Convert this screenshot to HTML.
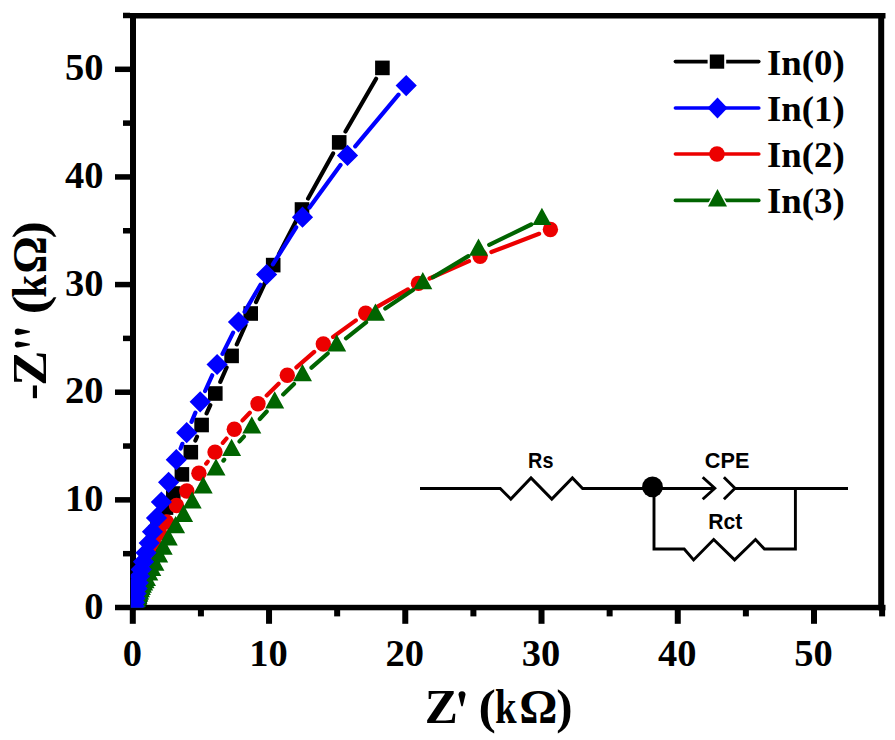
<!DOCTYPE html>
<html><head><meta charset="utf-8"><style>
html,body{margin:0;padding:0;background:#fff;width:895px;height:740px;overflow:hidden}
svg{display:block}
.tl text{font-family:"Liberation Serif",serif;font-weight:bold;font-size:38.5px;fill:#000}
.lg{font-family:"Liberation Serif",serif;font-weight:bold;font-size:36.8px;fill:#000}
.at{font-family:"Liberation Serif",serif;font-weight:bold;font-size:48px;fill:#000}
.ct{font-family:"Liberation Sans",sans-serif;font-weight:bold;font-size:22px;fill:#000}
</style></head><body>
<svg width="895" height="740" viewBox="0 0 895 740">
<defs><clipPath id="pc"><rect x="130.8" y="0" width="760" height="607.8"/></clipPath></defs>
<rect width="895" height="740" fill="#fff"/>
<rect x="130" y="13" width="755.5" height="5.5" fill="#000"/><rect x="130" y="604.8" width="755.5" height="5.5" fill="#000"/><rect x="130" y="13" width="6" height="597.3" fill="#000"/><rect x="878.2" y="13" width="6" height="597.3" fill="#000"/><rect x="115" y="604.75" width="15" height="5.5" fill="#000"/><rect x="123" y="550.93" width="7" height="5.5" fill="#000"/><rect x="115" y="497.11" width="15" height="5.5" fill="#000"/><rect x="123" y="443.29" width="7" height="5.5" fill="#000"/><rect x="115" y="389.47" width="15" height="5.5" fill="#000"/><rect x="123" y="335.65" width="7" height="5.5" fill="#000"/><rect x="115" y="281.83" width="15" height="5.5" fill="#000"/><rect x="123" y="228.01" width="7" height="5.5" fill="#000"/><rect x="115" y="174.19" width="15" height="5.5" fill="#000"/><rect x="123" y="120.37" width="7" height="5.5" fill="#000"/><rect x="115" y="66.55" width="15" height="5.5" fill="#000"/><rect x="123" y="12.73" width="7" height="5.5" fill="#000"/><rect x="129.80" y="610" width="6" height="13.8" fill="#000"/><rect x="197.92" y="610" width="6" height="6.4" fill="#000"/><rect x="266.04" y="610" width="6" height="13.8" fill="#000"/><rect x="334.16" y="610" width="6" height="6.4" fill="#000"/><rect x="402.28" y="610" width="6" height="13.8" fill="#000"/><rect x="470.40" y="610" width="6" height="6.4" fill="#000"/><rect x="538.52" y="610" width="6" height="13.8" fill="#000"/><rect x="606.64" y="610" width="6" height="6.4" fill="#000"/><rect x="674.76" y="610" width="6" height="13.8" fill="#000"/><rect x="742.88" y="610" width="6" height="6.4" fill="#000"/><rect x="811.00" y="610" width="6" height="13.8" fill="#000"/><rect x="879.12" y="610" width="6" height="6.4" fill="#000"/>
<g clip-path="url(#pc)"><path d="M376.1 78.8L345.5 131.5M333.1 153.4L308.1 198.5M296.2 220.7L279.0 253.9M267.9 276.5L256.0 302.1M245.5 325.0L236.8 344.4M226.6 367.5L220.3 381.9M210.3 405.1L206.6 413.4M197.0 436.7L195.4 440.5" stroke="#000000" stroke-width="4.2" stroke-linecap="round" fill="none"/><rect x="375.1" y="60.6" width="14.6" height="14.6" fill="#000000"/><rect x="331.9" y="135.1" width="14.6" height="14.6" fill="#000000"/><rect x="294.7" y="202.2" width="14.6" height="14.6" fill="#000000"/><rect x="265.9" y="257.8" width="14.6" height="14.6" fill="#000000"/><rect x="243.4" y="306.2" width="14.6" height="14.6" fill="#000000"/><rect x="224.3" y="348.6" width="14.6" height="14.6" fill="#000000"/><rect x="208.0" y="386.2" width="14.6" height="14.6" fill="#000000"/><rect x="194.3" y="417.7" width="14.6" height="14.6" fill="#000000"/><rect x="183.5" y="444.9" width="14.6" height="14.6" fill="#000000"/><rect x="174.6" y="467.1" width="14.6" height="14.6" fill="#000000"/><rect x="166.0" y="486.2" width="14.6" height="14.6" fill="#000000"/><rect x="158.7" y="500.3" width="14.6" height="14.6" fill="#000000"/><rect x="150.2" y="514.2" width="14.6" height="14.6" fill="#000000"/><rect x="148.2" y="525.5" width="14.6" height="14.6" fill="#000000"/><rect x="145.8" y="535.4" width="14.6" height="14.6" fill="#000000"/><rect x="143.4" y="543.9" width="14.6" height="14.6" fill="#000000"/><rect x="141.3" y="551.5" width="14.6" height="14.6" fill="#000000"/><rect x="139.6" y="558.2" width="14.6" height="14.6" fill="#000000"/><rect x="138.1" y="564.0" width="14.6" height="14.6" fill="#000000"/><rect x="136.9" y="569.2" width="14.6" height="14.6" fill="#000000"/><rect x="135.8" y="573.8" width="14.6" height="14.6" fill="#000000"/><rect x="134.9" y="577.9" width="14.6" height="14.6" fill="#000000"/><rect x="134.1" y="581.4" width="14.6" height="14.6" fill="#000000"/><rect x="133.4" y="584.5" width="14.6" height="14.6" fill="#000000"/><rect x="132.8" y="587.3" width="14.6" height="14.6" fill="#000000"/><rect x="132.2" y="589.7" width="14.6" height="14.6" fill="#000000"/><rect x="131.8" y="591.8" width="14.6" height="14.6" fill="#000000"/><rect x="131.3" y="593.7" width="14.6" height="14.6" fill="#000000"/><rect x="131.0" y="595.3" width="14.6" height="14.6" fill="#000000"/><rect x="130.6" y="596.8" width="14.6" height="14.6" fill="#000000"/><rect x="130.3" y="598.1" width="14.6" height="14.6" fill="#000000"/><path d="M539.1 233.8L491.4 252.0M469.0 261.2L429.5 278.5M407.9 289.4L376.2 307.3M355.9 320.4L333.1 336.9M314.2 351.9L296.4 367.4M278.6 383.7L266.7 395.4M249.8 412.7L242.5 420.4M226.5 438.5L222.8 442.9M207.7 461.7L206.2 463.6" stroke="#ec0000" stroke-width="4.2" stroke-linecap="round" fill="none"/><circle cx="550.4" cy="229.5" r="7.7" fill="#ec0000"/><circle cx="480.1" cy="256.3" r="7.7" fill="#ec0000"/><circle cx="418.4" cy="283.4" r="7.7" fill="#ec0000"/><circle cx="365.7" cy="313.3" r="7.7" fill="#ec0000"/><circle cx="323.3" cy="344.0" r="7.7" fill="#ec0000"/><circle cx="287.3" cy="375.3" r="7.7" fill="#ec0000"/><circle cx="258.0" cy="403.8" r="7.7" fill="#ec0000"/><circle cx="234.3" cy="429.3" r="7.7" fill="#ec0000"/><circle cx="215.0" cy="452.1" r="7.7" fill="#ec0000"/><circle cx="198.9" cy="473.2" r="7.7" fill="#ec0000"/><circle cx="186.8" cy="491.0" r="7.7" fill="#ec0000"/><circle cx="176.5" cy="505.5" r="7.7" fill="#ec0000"/><circle cx="166.5" cy="522.0" r="7.7" fill="#ec0000"/><circle cx="159.5" cy="533.0" r="7.7" fill="#ec0000"/><circle cx="153.5" cy="542.5" r="7.7" fill="#ec0000"/><circle cx="148.5" cy="550.5" r="7.7" fill="#ec0000"/><circle cx="146.2" cy="557.7" r="7.7" fill="#ec0000"/><circle cx="144.7" cy="564.2" r="7.7" fill="#ec0000"/><circle cx="143.5" cy="570.2" r="7.7" fill="#ec0000"/><circle cx="142.4" cy="575.5" r="7.7" fill="#ec0000"/><circle cx="141.6" cy="580.4" r="7.7" fill="#ec0000"/><circle cx="140.9" cy="584.8" r="7.7" fill="#ec0000"/><circle cx="140.3" cy="588.7" r="7.7" fill="#ec0000"/><circle cx="139.7" cy="592.2" r="7.7" fill="#ec0000"/><circle cx="139.2" cy="595.4" r="7.7" fill="#ec0000"/><circle cx="138.8" cy="598.3" r="7.7" fill="#ec0000"/><path d="M531.2 224.5L489.2 244.8M468.3 256.1L433.0 277.3M412.9 290.1L385.3 308.5M366.1 322.4L346.0 338.3M327.7 353.5L311.5 367.7M294.0 383.9L283.2 394.4M266.7 411.5L259.8 419.0M243.9 436.6L239.5 441.4M224.2 459.6L223.4 460.6" stroke="#006400" stroke-width="4.2" stroke-linecap="round" fill="none"/><path fill="#006400" d="M541.9 207.8L551.4 225.0L532.4 225.0ZM478.5 238.5L488.0 255.7L469.0 255.7ZM422.8 272.0L432.3 289.2L413.3 289.2ZM375.4 303.6L384.9 320.8L365.9 320.8ZM336.7 334.2L346.2 351.4L327.2 351.4ZM302.5 364.1L312.0 381.3L293.0 381.3ZM274.7 391.3L284.2 408.5L265.2 408.5ZM251.8 416.3L261.3 433.5L242.3 433.5ZM231.6 438.8L241.1 456.0L222.1 456.0ZM216.0 458.4L225.5 475.6L206.5 475.6ZM203.2 476.3L212.7 493.5L193.7 493.5ZM192.2 491.4L201.7 508.6L182.7 508.6ZM183.6 504.7L193.1 521.9L174.1 521.9ZM175.6 516.0L185.1 533.2L166.1 533.2ZM168.3 528.2L177.8 545.4L158.8 545.4ZM163.2 537.6L172.7 554.8L153.7 554.8ZM158.7 545.2L168.2 562.4L149.2 562.4ZM154.9 553.6L164.4 570.8L145.4 570.8ZM151.8 558.9L161.3 576.1L142.3 576.1ZM148.8 563.4L158.3 580.6L139.3 580.6ZM146.5 568.7L156.0 585.9L137.0 585.9ZM145.1 571.1L154.6 588.3L135.6 588.3ZM143.7 573.4L153.2 590.6L134.2 590.6ZM142.4 575.6L151.9 592.8L132.9 592.8ZM141.4 577.9L150.9 595.1L131.9 595.1ZM140.5 580.1L150.0 597.3L131.0 597.3ZM139.6 582.2L149.1 599.4L130.1 599.4ZM138.8 584.2L148.3 601.4L129.3 601.4ZM138.0 586.2L147.5 603.4L128.5 603.4ZM137.2 588.1L146.7 605.3L127.7 605.3ZM136.5 589.9L146.0 607.1L127.0 607.1ZM135.8 591.6L145.3 608.8L126.3 608.8ZM135.1 593.2L144.6 610.4L125.6 610.4Z"/><path d="M398.5 94.7L355.2 146.3M340.5 165.0L309.5 207.6M296.2 227.3L272.9 264.4M260.5 284.7L244.6 311.8M233.1 332.6L222.5 353.9M212.2 375.3L205.1 391.0M195.4 412.7L191.5 421.8M182.4 443.8L180.6 448.6" stroke="#0000ff" stroke-width="4.2" stroke-linecap="round" fill="none"/><path fill="#0000ff" d="M406.2 75.0L416.8 85.6L406.2 96.2L395.6 85.6ZM347.5 144.8L358.1 155.4L347.5 166.0L336.9 155.4ZM302.5 206.6L313.1 217.2L302.5 227.8L291.9 217.2ZM266.6 263.9L277.2 274.5L266.6 285.1L256.0 274.5ZM238.5 311.4L249.1 322.0L238.5 332.6L227.9 322.0ZM217.1 353.9L227.7 364.5L217.1 375.1L206.5 364.5ZM200.2 391.2L210.8 401.8L200.2 412.4L189.6 401.8ZM186.7 422.1L197.3 432.7L186.7 443.3L176.1 432.7ZM176.3 449.1L186.9 459.7L176.3 470.3L165.7 459.7ZM168.6 471.7L179.2 482.3L168.6 492.9L158.0 482.3ZM161.4 491.4L172.0 502.0L161.4 512.6L150.8 502.0ZM156.5 507.4L167.1 518.0L156.5 528.6L145.9 518.0ZM152.5 521.1L163.1 531.7L152.5 542.3L141.9 531.7ZM149.2 532.5L159.8 543.1L149.2 553.7L138.6 543.1ZM146.0 542.2L156.6 552.8L146.0 563.4L135.4 552.8ZM143.5 551.1L154.1 561.7L143.5 572.3L132.9 561.7ZM141.2 558.8L151.8 569.4L141.2 580.0L130.6 569.4ZM139.5 565.7L150.1 576.3L139.5 586.9L128.9 576.3ZM138.2 572.1L148.8 582.7L138.2 593.3L127.6 582.7ZM137.1 577.8L147.7 588.4L137.1 599.0L126.5 588.4ZM136.0 583.0L146.6 593.6L136.0 604.2L125.4 593.6ZM135.1 587.6L145.7 598.2L135.1 608.8L124.5 598.2ZM134.5 591.8L145.1 602.4L134.5 613.0L123.9 602.4ZM134.1 595.6L144.7 606.2L134.1 616.8L123.5 606.2Z"/></g>
<g class="tl"><text x="103.5" y="618.5" text-anchor="end">0</text><text x="103.5" y="510.9" text-anchor="end">10</text><text x="103.5" y="403.2" text-anchor="end">20</text><text x="103.5" y="295.6" text-anchor="end">30</text><text x="103.5" y="187.9" text-anchor="end">40</text><text x="103.5" y="80.3" text-anchor="end">50</text><text x="132.3" y="666" text-anchor="middle">0</text><text x="268.5" y="666" text-anchor="middle">10</text><text x="404.8" y="666" text-anchor="middle">20</text><text x="541.0" y="666" text-anchor="middle">30</text><text x="677.3" y="666" text-anchor="middle">40</text><text x="813.5" y="666" text-anchor="middle">50</text></g>
<path d="M675.4 61.6H758.8" stroke="#000000" stroke-width="3.6" stroke-linecap="round"/><rect x="707.6" y="52.3" width="18.6" height="18.6" fill="#fff"/><rect x="709.8" y="54.5" width="14.4" height="14.2" fill="#000000"/><text x="767" y="74.6" class="lg">In(0)</text><path d="M675.4 108.0H758.8" stroke="#0000ff" stroke-width="3.6" stroke-linecap="round"/><path d="M717.5 97.4L727.5 108.0L717.5 118.6L707.5 108.0Z" fill="#0000ff"/><text x="767" y="121.0" class="lg">In(1)</text><path d="M675.4 154.0H758.8" stroke="#ec0000" stroke-width="3.6" stroke-linecap="round"/><circle cx="717" cy="154.0" r="7.8" fill="#ec0000"/><text x="767" y="167.0" class="lg">In(2)</text><path d="M675.4 200.4H758.8" stroke="#006400" stroke-width="3.6" stroke-linecap="round"/><path d="M717.5 186.20000000000002L729.7 208.3L705.3 208.3Z" fill="#fff"/><path d="M717.5 189.1L727 206.5L708 206.5Z" fill="#006400"/><text x="767" y="213.4" class="lg">In(3)</text>
<path stroke="#000" stroke-width="2.9" fill="none" stroke-linejoin="miter" d="M420 488.5H500.2L510.8 499.1L531 477.9L551.8 499.1L572.4 477.9L582.6 488.5H714.8M702.7 477.2L714.8 488.3L702.7 499.3M723.9 477.2L735 488.3L723.9 499.3M735 488.5H848"/><path stroke="#000" stroke-width="2.9" fill="none" stroke-linejoin="miter" d="M654 488V549H684.2L693.6 559.9L713.7 539.5L734.6 559.9L755.5 539.5L764.4 549H795.4V488.5"/><circle cx="652.5" cy="486.8" r="10.4" fill="#000"/><text transform="translate(528.1 468) scale(0.9 1)" class="ct">Rs</text><text transform="translate(704.8 468) scale(0.985 1)" class="ct">CPE</text><text transform="translate(708.3 529.2) scale(0.96 1)" class="ct">Rct</text>
<g transform="translate(427.1 722.6)"><text transform="translate(-2.38 0) scale(1.034 1)" class="at">Z</text><path d="M31.40 -27.90A3.50 3.50 0 0 1 38.40 -27.90L35.60 -16.40L34.20 -16.40Z" fill="#000"/><text transform="translate(51.41 0) scale(1.086 1)" class="at">(</text><text transform="translate(67.93 0) scale(0.810 1)" class="at">k</text><text transform="translate(92.25 0) scale(0.993 1)" class="at">Ω</text><text transform="translate(129.03 0) scale(1.021 1)" class="at">)</text></g>
<g transform="translate(46.2 398.2) rotate(-90)"><text transform="translate(-1.81 0) scale(1.022 1)" class="at">-</text><text transform="translate(12.47 0) scale(1.097 1)" class="at">Z</text><path d="M50.60 -28.30A3.10 3.10 0 0 1 56.80 -28.30L54.40 -16.40L53.00 -16.40Z" fill="#000"/><path d="M63.20 -28.20A3.20 3.20 0 0 1 69.60 -28.20L67.10 -16.40L65.70 -16.40Z" fill="#000"/><text transform="translate(83.58 0) scale(1.192 1)" class="at">(</text><text transform="translate(100.57 0) scale(0.857 1)" class="at">k</text><text transform="translate(124.39 0) scale(0.979 1)" class="at">Ω</text><text transform="translate(159.74 0) scale(1.078 1)" class="at">)</text></g>
</svg>
</body></html>
